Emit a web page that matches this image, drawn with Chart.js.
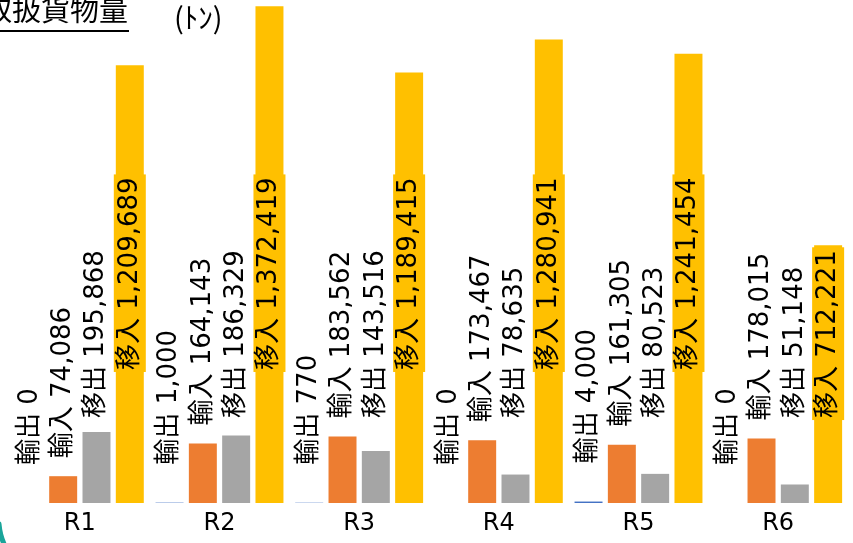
<!DOCTYPE html>
<html>
<head>
<meta charset="utf-8">
<script src="https://cdn.jsdelivr.net/npm/chart.js@4/dist/chart.umd.min.js"></script>
<style>
  html, body { margin: 0; padding: 0; background: #fff; overflow: hidden; }
  #wrap { width: 853px; height: 543px; position: relative; }
</style>
</head>
<body>
<div id="wrap"><canvas id="c" width="853" height="543"></canvas></div>
<script>
// 地区別の取扱貨物量（トン）
const regions = ['R1', 'R2', 'R3', 'R4', 'R5', 'R6'];
const seriesNames = ['輸出', '輸入', '移出', '移入'];
const exportTons = [0, 1000, 770, 0, 4000, 0];
const importTons = [74086, 164143, 183562, 173467, 161305, 178015];
const shipOutTons = [195868, 186329, 143516, 78635, 80523, 51148];
const shipInTons = [1209689, 1372419, 1189415, 1280941, 1241454, 712221];

const seriesValues = [exportTons, importTons, shipOutTons, shipInTons];
const seriesColors = ['#4472C4', '#ED7D31', '#A5A5A5', '#FFC000'];

const LABEL_FONT = '26px "DejaVu Sans", "Noto Sans CJK JP", sans-serif';
const TEXT_COLOR = '#000';

// 縦書きラベルの置き方（系列ごと）
const labelPlacement = [
  { gap: 38, lift: 38 },           // 輸出
  { gap: 18, lift: 38 },           // 輸入
  { gap: 10, lift: 85 },           // 移出
  { inside: true, lift: 133 }      // 移入：棒の中に収める
];

const valueLabels = {
  id: 'valueLabels',
  afterDatasetsDraw(chart) {
    const ctx = chart.ctx;
    ctx.save();
    ctx.font = LABEL_FONT;
    chart.data.datasets.forEach((ds, di) => {
      const meta = chart.getDatasetMeta(di);
      const p = labelPlacement[di];
      meta.data.forEach((bar, i) => {
        const text = ds.label + ' ' + ds.data[i].toLocaleString('en-US');
        const w = ctx.measureText(text).width;
        let bottom;
        if (p.inside) {
          bottom = Math.max(bar.base - p.lift, bar.y + 5 + w);
          ctx.fillStyle = ds.backgroundColor;
          ctx.fillRect(bar.x - 16, bottom - w - 3, 32, w + 5);
        } else {
          bottom = Math.min(bar.y - p.gap, bar.base - p.lift);
        }
        ctx.save();
        ctx.translate(bar.x, bottom);
        ctx.rotate(-Math.PI / 2);
        ctx.textAlign = 'left';
        ctx.textBaseline = 'middle';
        ctx.fillStyle = TEXT_COLOR;
        ctx.fillText(text, 0, 0);
        ctx.restore();
      });
    });
    ctx.restore();
  }
};

// 見出しと単位、左下の飾り
const headings = {
  id: 'headings',
  afterDraw(chart) {
    const ctx = chart.ctx;
    ctx.save();
    ctx.fillStyle = TEXT_COLOR;
    ctx.textAlign = 'left';
    ctx.textBaseline = 'alphabetic';
    ctx.font = '29px "Noto Sans CJK JP", sans-serif';
    ctx.fillText('取扱貨物量', -17, 21);
    ctx.fillRect(0, 30, 129, 2);
    ctx.fillText('(ﾄﾝ)', 174, 29);

    ctx.strokeStyle = '#1AA59A';
    ctx.lineWidth = 5;
    ctx.lineCap = 'round';
    ctx.beginPath();
    ctx.moveTo(-1, 524);
    ctx.quadraticCurveTo(0, 536, 5, 546);
    ctx.stroke();
    ctx.restore();
  }
};

new Chart(document.getElementById('c'), {
  type: 'bar',
  data: {
    labels: regions,
    datasets: seriesNames.map((name, k) => ({
      label: name,
      data: seriesValues[k],
      backgroundColor: seriesColors[k],
      borderWidth: 0,
      barPercentage: 0.84,
      categoryPercentage: 0.954
    }))
  },
  options: {
    responsive: false,
    animation: false,
    devicePixelRatio: 1,
    layout: { padding: { left: 10, right: 5, top: 0, bottom: -2 } },
    plugins: {
      legend: { display: false },
      tooltip: { enabled: false },
      title: { display: false }
    },
    scales: {
      x: {
        grid: { display: false, drawTicks: false },
        border: { display: false },
        ticks: {
          color: TEXT_COLOR,
          padding: 6.6,
          font: { family: 'DejaVu Sans', size: 24 }
        }
      },
      y: {
        display: false,
        min: 0,
        max: 1390000
      }
    }
  },
  plugins: [valueLabels, headings]
});
</script>
</body>
</html>
